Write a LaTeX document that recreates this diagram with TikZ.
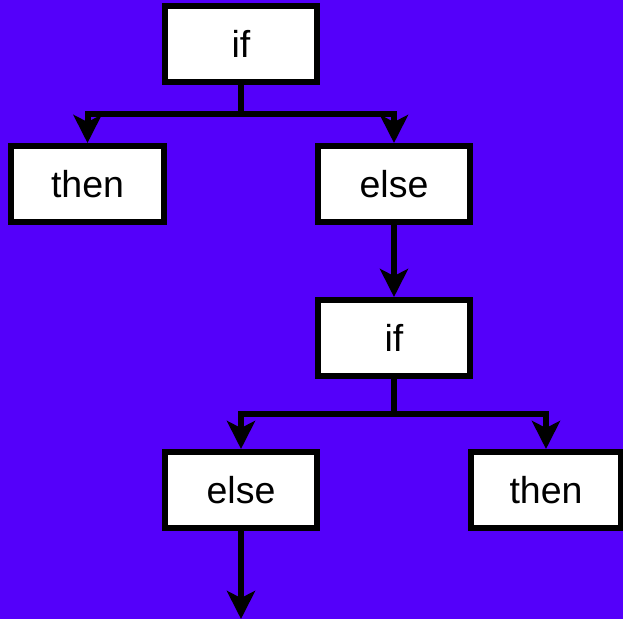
\documentclass[tikz,border=0pt]{standalone}
\usepackage{fontspec}
\setmainfont{Liberation Sans}
\usetikzlibrary{arrows.meta}
\definecolor{bgviolet}{RGB}{84,0,250}
\begin{document}
\begin{tikzpicture}[x=1pt,y=-1pt,
  box/.style={draw=black,fill=white,line width=6pt,minimum width=152pt,minimum height=76pt,inner sep=0pt,font=\fontsize{37.5}{45}\selectfont},
  conn/.style={draw=black,line width=6pt,-{Stealth[length=28pt,width=28pt,inset=7pt]}}]
\useasboundingbox (0,0) rectangle (623,619);
\fill[bgviolet] (0,0) rectangle (623,619);
\node[box] (if1) at (241,44) {if};
\node[box,minimum width=153pt] (then1) at (87.5,184) {then};
\node[box] (else1) at (394,184) {else};
\node[box] (if2) at (394,338) {if};
\node[box] (else2) at (241,490) {else};
\node[box,minimum width=150pt] (then2) at (546,490) {then};
\coordinate (end) at (241,619);
\draw[conn] (if1.south) -- ++(0,29) -| (then1.north);
\draw[conn] (if1.south) -- ++(0,29) -| (else1.north);
\draw[conn] (else1.south) -- (if2.north);
\draw[conn] (if2.south) -- ++(0,35) -| (else2.north);
\draw[conn] (if2.south) -- ++(0,35) -| (then2.north);
\draw[conn] (else2.south) -- (end);
\end{tikzpicture}
\end{document}
